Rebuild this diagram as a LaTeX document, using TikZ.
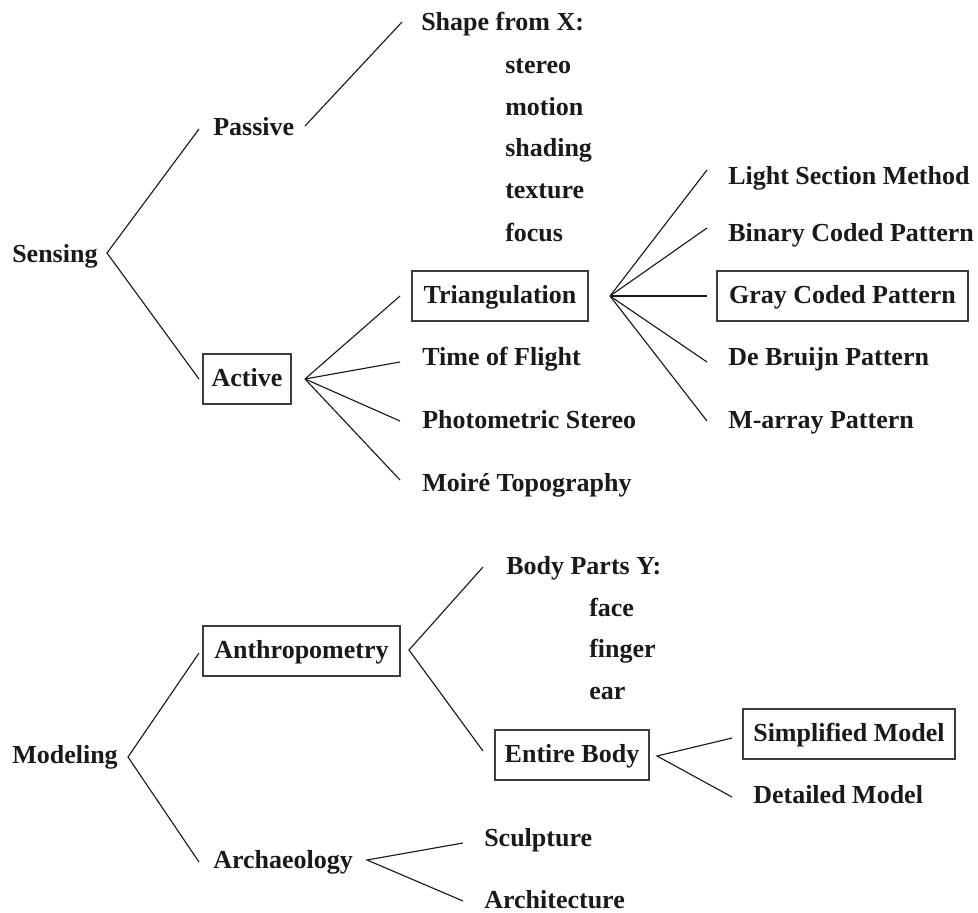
\documentclass[tikz,border=0pt]{standalone}
\usepackage{fontspec}
\setmainfont{Liberation Serif}
\definecolor{ink}{HTML}{1A1A1A}
\begin{document}
\begin{tikzpicture}[x=0.75pt,y=-0.75pt,
  every node/.style={font=\bfseries\fontsize{19.5pt}{23pt}\selectfont, text=ink},
  lbl/.style={anchor=base west, inner sep=0pt},
  boxed/.style={draw=ink!85, line width=0.9pt, inner sep=0pt, text height=11.5pt, text depth=0pt, minimum height=37.5pt},
  conn/.style={draw=ink, line width=0.85pt}]
\useasboundingbox (0,0) rectangle (978,913);

% ---------- Sensing tree ----------
\node[lbl] (sensing) at (12,262) {Sensing};
\node[lbl] (passive) at (213,136) {Passive};
\node[boxed, minimum width=66pt] (active) at (247,379) {Active};
\node[lbl] (sfx) at (421,31) {Shape from X:};
\node[lbl] (stereo) at (505,74) {stereo};
\node[lbl] (motion) at (505,116) {motion};
\node[lbl] (shading) at (505,157) {shading};
\node[lbl] (texture) at (505,199) {texture};
\node[lbl] (focus) at (505,241) {focus};
\node[boxed, minimum width=132pt] (tri) at (500,296) {Triangulation};
\node[lbl] (tof) at (422,365) {Time of Flight};
\node[lbl] (photo) at (422,428) {Photometric Stereo};
\node[lbl] (moire) at (422,491) {Moiré Topography};
\node[lbl] (light) at (728,185) {Light Section Method};
\node[lbl] (binary) at (728,241) {Binary Coded Pattern};
\node[boxed, minimum width=188.25pt] (gray) at (842.5,296) {Gray Coded Pattern};
\node[lbl] (debruijn) at (728,365) {De Bruijn Pattern};
\node[lbl] (marray) at (728,428) {M-array Pattern};

\coordinate (sJ) at (107,253);
\coordinate (sP) at (199,129);
\coordinate (sA) at (199,379);
\draw[conn] (sP) -- (sJ) -- (sA);

\coordinate (pJ) at (305,126);
\coordinate (pS) at (402,22);
\draw[conn] (pJ) -- (pS);

\coordinate (aJ) at (305,379);
\coordinate (aT) at (400,296);
\coordinate (aF) at (400,362);
\coordinate (aP) at (400,421);
\coordinate (aM) at (400,480);
\draw[conn] (aJ) -- (aT);
\draw[conn] (aJ) -- (aF);
\draw[conn] (aJ) -- (aP);
\draw[conn] (aJ) -- (aM);

\coordinate (tJ) at (610,296);
\coordinate (tL) at (707,170);
\coordinate (tB) at (707,228);
\coordinate (tG) at (707,296);
\coordinate (tD) at (707,362);
\coordinate (tM) at (707,421);
\draw[conn] (tJ) -- (tL);
\draw[conn] (tJ) -- (tB);
\draw[conn] (tJ) -- (tG);
\draw[conn] (tJ) -- (tD);
\draw[conn] (tJ) -- (tM);

% ---------- Modeling tree ----------
\node[lbl] (modeling) at (12,763) {Modeling};
\node[boxed, minimum width=147.75pt] (anthro) at (301.5,651) {Anthropometry};
\node[lbl] (arch) at (213,868) {Archaeology};
\node[lbl] (bpy) at (506,574) {Body Parts Y:};
\node[lbl] (face) at (589,616) {face};
\node[lbl] (finger) at (589,657) {finger};
\node[lbl] (ear) at (589,699) {ear};
\node[boxed, minimum width=115.5pt] (entire) at (572,755) {Entire Body};
\node[boxed, minimum width=159pt] (simpl) at (849,734) {Simplified Model};
\node[lbl] (detail) at (753,803) {Detailed Model};
\node[lbl] (sculpt) at (484,846) {Sculpture};
\node[lbl] (archi) at (484,908) {Architecture};

\coordinate (mJ) at (128,757);
\coordinate (mA) at (199,653);
\coordinate (mR) at (199,862);
\draw[conn] (mA) -- (mJ) -- (mR);

\coordinate (anJ) at (409,650);
\coordinate (anB) at (483,567);
\coordinate (anE) at (483,751);
\draw[conn] (anB) -- (anJ) -- (anE);

\coordinate (eJ) at (657,756);
\coordinate (eS) at (732,738);
\coordinate (eD) at (732,797);
\draw[conn] (eS) -- (eJ) -- (eD);

\coordinate (arJ) at (367,860);
\coordinate (arS) at (463,843);
\coordinate (arA) at (463,901);
\draw[conn] (arS) -- (arJ) -- (arA);
\end{tikzpicture}
\end{document}
